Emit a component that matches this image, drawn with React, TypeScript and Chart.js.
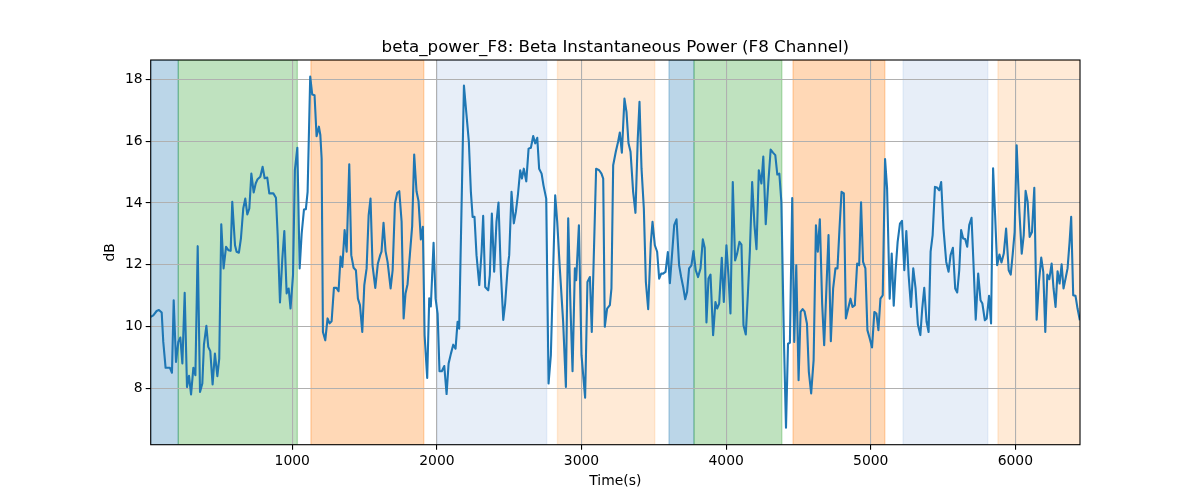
import React, { useEffect, useRef } from 'react';
import { Chart, registerables } from 'chart.js';

Chart.register(...registerables);

const chartTitle = 'beta_power_F8: Beta Instantaneous Power (F8 Channel)';
const xLabel = 'Time(s)';
const yLabel = 'dB';

const timeSec = [
  21, 39, 62, 78, 97, 108, 124, 154, 168, 180,
  196, 212, 226, 240, 256, 272, 286, 300, 316, 330,
  346, 362, 378, 389, 406, 419, 433, 449, 465, 482,
  495, 509, 525, 542, 558, 574, 585, 604, 615, 631,
  645, 661, 675, 689, 703, 717, 733, 747, 760, 779,
  795, 809, 827, 841, 869, 887, 899, 915, 931, 945,
  961, 975, 988, 1005, 1018, 1035, 1051, 1065, 1081, 1094,
  1106, 1124, 1138, 1154, 1168, 1184, 1194, 1203, 1212, 1228,
  1244, 1258, 1272, 1288, 1306, 1320, 1334, 1346, 1362, 1376,
  1394, 1408, 1424, 1440, 1454, 1468, 1484, 1498, 1514, 1528,
  1541, 1555, 1574, 1592, 1608, 1617, 1631, 1645, 1659, 1680,
  1694, 1710, 1726, 1740, 1756, 1770, 1783, 1797, 1813, 1829,
  1843, 1859, 1873, 1889, 1903, 1915, 1933, 1947, 1958, 1977,
  1991, 2005, 2018, 2034, 2051, 2067, 2081, 2097, 2113, 2129,
  2143, 2154,
  2187, 2205, 2221, 2235, 2247, 2260, 2274, 2293, 2309, 2320,
  2334, 2355, 2366, 2380, 2396, 2412, 2426, 2442, 2459, 2472,
  2489, 2500, 2516, 2532, 2546, 2560, 2576, 2588, 2601, 2618,
  2634, 2650, 2666, 2680, 2694, 2707, 2724, 2737, 2756, 2772,
  2788, 2818, 2832, 2850, 2873, 2892, 2908, 2924, 2938, 2954,
  2963, 2982, 3000, 3025, 3041, 3058, 3071, 3101, 3122, 3138,
  3150, 3161, 3177, 3196, 3207, 3219, 3237, 3253, 3265, 3279,
  3297, 3311, 3325, 3339, 3357, 3373, 3389, 3401, 3415, 3431,
  3445, 3461, 3479, 3491, 3507, 3523, 3537, 3551, 3564, 3581,
  3597, 3611, 3629, 3641, 3657, 3675, 3689, 3703, 3717, 3730,
  3744, 3760, 3774, 3790, 3806, 3823, 3839, 3852, 3864, 3878,
  3892, 3910, 3926, 3938, 3952, 3970, 3984, 4002, 4016, 4030,
  4046, 4062, 4076, 4092, 4106, 4120, 4136, 4150, 4164, 4180,
  4196, 4210, 4226,
  4244, 4257, 4274, 4292, 4308, 4324, 4340, 4354, 4368, 4382,
  4400, 4414, 4428, 4441, 4457, 4471, 4485, 4501, 4515, 4529,
  4542, 4559, 4572, 4588, 4605, 4621, 4634, 4648, 4664, 4678,
  4708, 4724, 4740, 4756, 4770, 4784, 4798, 4814, 4828, 4844,
  4860, 4874, 4890, 4906, 4920, 4933, 4947, 4963, 4977, 4993,
  5009, 5025, 5039, 5053, 5067, 5083, 5099, 5113, 5131, 5145,
  5159, 5172, 5186, 5202, 5216, 5232, 5246, 5262, 5278, 5294,
  5310, 5326, 5343, 5356, 5370, 5386, 5400, 5414, 5428, 5444,
  5458, 5474, 5487, 5503, 5522, 5538, 5552, 5568, 5584, 5598,
  5612, 5625, 5639, 5653, 5667, 5681, 5697, 5710, 5726, 5743,
  5759, 5772, 5789, 5802, 5818, 5832, 5846, 5860, 5874, 5890,
  5904, 5920, 5936, 5954, 5968, 5982, 5995, 6009, 6028, 6044,
  6058, 6071, 6085, 6099, 6115, 6131, 6147, 6163, 6179, 6193,
  6207, 6221, 6235, 6251, 6264, 6278, 6292, 6306, 6320, 6333,
  6347, 6361, 6375, 6386, 6400, 6416, 6430, 6446,
];

const powerDb = [
  10.31, 10.36, 10.5, 10.53, 10.45, 9.5, 8.66, 8.66, 8.5, 10.85,
  8.85, 9.5, 9.64, 8.8, 11.09, 8.04, 8.4, 7.8, 8.66, 8.42,
  12.6, 7.88, 8.15, 9.4, 10.02, 9.34, 9.2, 8.12, 9.12, 8.39,
  8.96, 13.31, 11.88, 12.58, 12.47, 12.45, 14.04, 12.63, 12.42, 12.39,
  12.85, 13.82, 14.14, 13.63, 13.82, 14.95, 14.34, 14.63, 14.77, 14.85,
  15.17, 14.8, 14.82, 14.31, 14.31, 14.17, 12.96, 10.78, 12.18, 13.09,
  11.07, 11.23, 10.58, 11.66, 15.06, 15.79, 11.88, 13.01, 13.79, 13.8,
  14.36, 18.09, 17.51, 17.49, 16.16, 16.47, 16.2, 15.44, 9.82, 9.55,
  10.26, 10.1, 10.17, 11.25, 11.25, 11.14, 12.26, 11.93, 13.12, 12.42,
  15.25, 12.31, 11.9, 11.82, 10.9, 10.69, 9.82, 11.34, 11.88, 13.6,
  14.14, 11.98, 11.25, 12.04, 12.31, 12.42, 13.36, 12.44, 12.09, 11.23,
  11.82, 13.98, 14.33, 14.38, 13.39, 10.26, 11.07, 11.37, 12.31, 13.25,
  15.57, 14.38, 14.06, 12.82, 13.23, 9.72, 8.33, 10.91, 10.65, 12.71,
  10.9, 10.41, 8.55, 8.55, 8.72, 7.81, 8.8, 9.12, 9.41, 9.28,
  10.15, 9.93,
  17.8, 16.84, 15.98, 14.36, 13.55, 13.55, 12.31, 11.34, 12.42, 13.58,
  11.28, 11.17, 11.66, 13.66, 11.77, 13.39, 14.01, 11.77, 10.21, 10.74,
  11.88, 12.31, 14.36, 13.34, 13.71, 14.25, 15.06, 14.79, 15.11, 14.7,
  15.76, 15.79, 16.17, 15.93, 16.11, 15.11, 14.95, 14.57, 14.14, 8.15,
  9.07, 14.25, 13.39, 11.88, 10.15, 8.04, 13.5, 10.58, 8.55, 11.88,
  11.5, 13.28, 9.07, 7.69, 11.44, 11.6, 9.82, 15.11, 15.06, 14.95,
  14.79, 9.99, 10.58, 10.69, 11.23, 15.22, 15.66, 15.98, 16.28, 15.63,
  17.38, 16.95, 15.93, 15.66, 14.36, 13.68, 16.09, 17.28, 15.11, 13.82,
  11.44, 10.56, 12.68, 13.39, 12.63, 12.42, 11.55, 11.71, 11.71, 11.77,
  12.41, 11.4, 12.52, 13.28, 13.47, 11.98, 11.6, 11.28, 10.88, 11.12,
  11.88, 11.98, 12.44, 11.82, 11.6, 11.88, 12.82, 12.55, 10.13, 11.55,
  11.68, 9.72, 10.79, 10.58, 10.74, 12.22, 10.79, 12.63, 11.66, 10.42,
  14.68, 12.14, 12.36, 12.74, 12.65, 10.04, 9.74, 11.01, 12.42, 14.68,
  13.28, 12.5, 15.06,
  14.63, 15.5, 13.31, 14.68, 15.73, 15.63, 15.55, 14.92, 14.95, 14.03,
  9.5, 6.72, 9.44, 9.47, 14.16, 9.5, 11.98, 8.26, 10.47, 10.56,
  10.49, 10.09, 8.53, 7.83, 8.91, 13.28, 12.42, 13.47, 10.74, 9.39,
  12.96, 9.52, 11.23, 11.88, 11.88, 13.17, 14.36, 14.31, 10.26, 10.58,
  10.9, 10.63, 10.69, 12.04, 11.98, 14.02, 12.09, 11.88, 9.88, 9.61,
  9.32, 10.47, 10.42, 9.88, 10.9, 11.01, 15.42, 14.47, 10.9, 12.36,
  10.67, 11.82, 12.74, 13.33, 13.42, 11.82, 13.09, 11.66, 10.63, 11.88,
  11.23, 10.06, 9.72, 10.58, 11.25, 10.15, 9.82, 12.42, 12.96, 14.52,
  14.5, 14.41, 14.68, 13.17, 12.09, 11.77, 12.31, 12.55, 11.23, 11.1,
  11.82, 13.12, 12.85, 12.83, 12.58, 13.28, 13.52, 12.09, 10.22, 11.71,
  10.85, 10.74, 10.2, 10.26, 10.99, 10.1, 15.12, 13.6, 11.98, 12.33,
  12.07, 12.36, 13.17, 11.82, 11.68, 12.36, 13.06, 15.87, 13.71, 12.36,
  12.96, 14.39, 14.04, 12.9, 13.06, 14.49, 10.22, 11.44, 12.23, 11.77,
  9.82, 11.68, 11.53, 12.04, 11.23, 10.63, 11.79, 11.39, 12.01, 11.23,
  11.55, 11.88, 12.74, 13.55, 11.01, 10.99, 10.58, 10.2,
];

// Shaded phase intervals (seconds)
const spanStart = [21, 212, 1129, 2001, 2834, 3605, 3778, 4463, 5224, 5880];
const spanEnd = [212, 1035, 1909, 2759, 3506, 3778, 4385, 5097, 5809, 6500];
const spanPhase = ['A', 'B', 'C', 'D', 'E', 'A', 'B', 'C', 'D', 'E'];

const xTickValues = [1000, 2000, 3000, 4000, 5000, 6000];
const yTickValues = [8, 10, 12, 14, 16, 18];

const xMin = 21;
const xMax = 6447;
const yMin = 6.17;
const yMax = 18.63;

const phaseColor: Record<string, string> = {
  A: 'rgba(31,119,180,0.3)',
  B: 'rgba(44,160,44,0.3)',
  C: 'rgba(255,127,14,0.3)',
  D: 'rgba(174,199,232,0.3)',
  E: 'rgba(255,187,120,0.3)',
};

const FONT = "'DejaVu Sans', 'Liberation Sans', sans-serif";

const spanPlugin = {
  id: 'phaseSpans',
  beforeDraw(chart: any) {
    const { ctx, chartArea, scales } = chart;
    const xs = scales.x;
    ctx.save();
    ctx.beginPath();
    ctx.rect(chartArea.left, chartArea.top, chartArea.right - chartArea.left, chartArea.bottom - chartArea.top);
    ctx.clip();
    for (let i = 0; i < spanStart.length; i++) {
      const x0 = xs.getPixelForValue(spanStart[i]);
      const x1 = xs.getPixelForValue(spanEnd[i]);
      const c = phaseColor[spanPhase[i]];
      ctx.fillStyle = c;
      ctx.fillRect(x0, chartArea.top, x1 - x0, chartArea.bottom - chartArea.top);
      ctx.strokeStyle = c;
      ctx.lineWidth = 1.4;
      ctx.strokeRect(x0, chartArea.top, x1 - x0, chartArea.bottom - chartArea.top);
    }
    ctx.restore();
  },
  afterDraw(chart: any) {
    const { ctx, chartArea } = chart;
    ctx.save();
    ctx.strokeStyle = '#000';
    ctx.lineWidth = 1.1;
    ctx.strokeRect(chartArea.left, chartArea.top, chartArea.right - chartArea.left, chartArea.bottom - chartArea.top);
    ctx.fillStyle = '#000';
    ctx.font = `16.7px ${FONT}`;
    ctx.textAlign = 'center';
    ctx.textBaseline = 'alphabetic';
    ctx.fillText(chartTitle, (chartArea.left + chartArea.right) / 2, chartArea.top - 8.3);
    ctx.restore();
  },
};

export default function App() {
  const canvasRef = useRef<HTMLCanvasElement | null>(null);

  useEffect(() => {
    document.body.style.margin = '0';
    const canvas = canvasRef.current;
    if (!canvas) return;
    const points = timeSec.map((t, i) => ({ x: t, y: powerDb[i] }));
    const chart = new Chart(canvas, {
      type: 'line',
      data: {
        datasets: [
          {
            label: 'beta_power_F8',
            data: points,
            borderColor: '#1f77b4',
            borderWidth: 2.1,
            pointRadius: 0,
            tension: 0,
            fill: false,
            borderJoinStyle: 'round',
          },
        ],
      },
      options: {
        responsive: false,
        animation: false,
        devicePixelRatio: 1,
        layout: { padding: { left: 0, right: 120, top: 60, bottom: 0 } },
        plugins: {
          legend: { display: false },
          tooltip: { enabled: false },
          title: { display: false },
        },
        scales: {
          x: {
            type: 'linear',
            min: xMin,
            max: xMax,
            afterFit: (s: any) => { s.height = 55.3; },
            afterBuildTicks: (s: any) => { s.ticks = xTickValues.map((v) => ({ value: v })); },
            ticks: {
              autoSkip: false,
              maxRotation: 0,
              color: '#000',
              padding: 3,
              font: { family: FONT, size: 13.9 },
              callback: (v: any) => String(v),
            },
            grid: {
              color: '#b0b0b0',
              lineWidth: 1.1,
              drawTicks: true,
              tickLength: 5,
              tickColor: '#000',
              tickWidth: 1.1,
            },
            border: { display: false },
            title: {
              display: true,
              text: xLabel,
              color: '#000',
              font: { family: FONT, size: 13.9 },
              padding: { top: 0, bottom: 10.7 },
            },
          },
          y: {
            type: 'linear',
            min: yMin,
            max: yMax,
            afterFit: (s: any) => { s.width = 150.7; },
            afterBuildTicks: (s: any) => { s.ticks = yTickValues.map((v) => ({ value: v })); },
            ticks: {
              autoSkip: false,
              color: '#000',
              padding: 3,
              font: { family: FONT, size: 13.9 },
              callback: (v: any) => String(v),
            },
            grid: {
              color: '#b0b0b0',
              lineWidth: 1.1,
              drawTicks: true,
              tickLength: 5,
              tickColor: '#000',
              tickWidth: 1.1,
            },
            border: { display: false },
            title: {
              display: true,
              text: yLabel,
              color: '#000',
              font: { family: FONT, size: 13.9 },
              padding: { top: 101.7, bottom: 0 },
            },
          },
        },
      },
      plugins: [spanPlugin],
    });
    return () => chart.destroy();
  }, []);

  return (
    <div style={{ width: 1200, height: 500 }}>
      <canvas ref={canvasRef} width={1200} height={500} style={{ display: 'block', width: 1200, height: 500 }} />
    </div>
  );
}
